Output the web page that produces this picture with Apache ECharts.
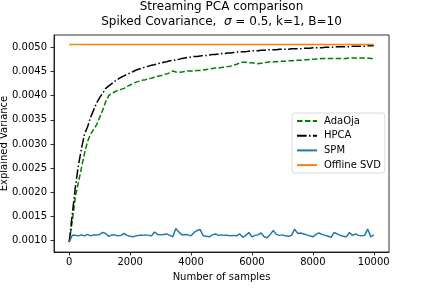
<!DOCTYPE html>
<html>
<head>
<meta charset="utf-8">
<script src="https://cdn.jsdelivr.net/npm/echarts@6/dist/echarts.min.js"></script>
<style>html,body{margin:0;padding:0;background:#fff}#c{width:432px;height:288px}</style>
</head>
<body>
<div id="c"></div>
<script>
// sample counts (every 100 samples)
const samples = [];
for (let i = 0; i <= 100; i++) samples.push(i * 100);

// values in units of 1e-3
const adaOja = [0.97,1.40,1.90,2.20,2.50,2.80,3.05,3.20,3.30,3.40,
  3.55,3.70,3.88,4.00,4.05,4.08,4.11,4.13,4.15,4.19,
  4.22,4.25,4.28,4.30,4.32,4.33,4.35,4.36,4.38,4.40,
  4.41,4.43,4.45,4.47,4.51,4.49,4.48,4.49,4.50,4.51,
  4.51,4.51,4.52,4.52,4.53,4.54,4.55,4.56,4.57,4.57,
  4.58,4.59,4.60,4.61,4.63,4.65,4.68,4.69,4.69,4.68,
  4.68,4.67,4.66,4.67,4.68,4.69,4.70,4.70,4.70,4.71,
  4.71,4.71,4.72,4.72,4.72,4.73,4.73,4.74,4.74,4.75,
  4.75,4.76,4.76,4.77,4.77,4.77,4.77,4.77,4.77,4.77,
  4.77,4.77,4.78,4.78,4.78,4.78,4.78,4.78,4.78,4.77,4.77];
const hpca = [0.97,1.55,2.10,2.55,2.90,3.20,3.35,3.55,3.70,3.85,
  3.96,4.05,4.15,4.20,4.25,4.30,4.34,4.38,4.41,4.44,
  4.47,4.50,4.53,4.55,4.57,4.59,4.61,4.63,4.64,4.66,
  4.67,4.69,4.70,4.72,4.73,4.74,4.75,4.77,4.78,4.79,
  4.80,4.81,4.81,4.82,4.83,4.83,4.84,4.85,4.85,4.86,
  4.87,4.87,4.88,4.88,4.89,4.90,4.90,4.91,4.91,4.92,
  4.93,4.93,4.93,4.94,4.94,4.95,4.95,4.95,4.95,4.96,
  4.96,4.96,4.96,4.97,4.97,4.97,4.97,4.98,4.98,4.98,
  4.99,4.99,4.99,4.99,5.00,5.00,5.00,5.00,5.01,5.01,
  5.01,5.01,5.01,5.02,5.02,5.02,5.02,5.02,5.03,5.03,5.03];
const spm = [0.98,1.11,1.11,1.10,1.12,1.10,1.13,1.10,1.12,1.12,
  1.13,1.17,1.15,1.09,1.12,1.12,1.10,1.11,1.15,1.11,
  1.09,1.08,1.10,1.11,1.11,1.12,1.11,1.10,1.18,1.13,
  1.12,1.13,1.14,1.11,1.08,1.25,1.18,1.12,1.13,1.12,
  1.10,1.17,1.21,1.23,1.10,1.09,1.08,1.12,1.14,1.11,
  1.12,1.11,1.11,1.10,1.11,1.10,1.14,1.07,1.11,1.17,
  1.08,1.11,1.12,1.16,1.08,1.06,1.13,1.21,1.13,1.11,
  1.12,1.10,1.09,1.11,1.24,1.15,1.16,1.14,1.12,1.10,
  1.08,1.13,1.16,1.13,1.11,1.09,1.07,1.17,1.14,1.11,
  1.09,1.08,1.17,1.11,1.14,1.11,1.10,1.11,1.24,1.08,1.12];
const offlineSamples = [0, 10000];
const offlineSVD = [5.06, 5.06];

const xTicks = [0, 2000, 4000, 6000, 8000, 10000];
const yTicks = [0.0010,0.0015,0.0020,0.0025,0.0030,0.0035,0.0040,0.0045,0.0050];

const pair = (xs, vs) => vs.map((v, i) => [xs[i], v * 1e-3]);
const F = 'DejaVu Sans';

const chart = echarts.init(document.getElementById('c'), null, {renderer: 'canvas'});
chart.setOption({
  animation: false,
  backgroundColor: '#fff',
  textStyle: {fontFamily: F},
  grid: {left: 54, right: 43, top: 35, bottom: 36, show: true, borderColor: '#000', borderWidth: 0.8,
         containLabel: false, outerBoundsMode: 'none'},
  graphic: [
    {type: 'text', x: 221.5, y: 7, style: {text: 'Streaming PCA comparison', font: '12px "DejaVu Sans"', fill: '#000', align: 'center', verticalAlign: 'middle'}},
    {type: 'text', x: 221.5, y: 22, style: {
      text: '{a|Spiked Covariance,  }{b|σ}{a| = 0.5, k=1, B=10}',
      align: 'center', verticalAlign: 'middle',
      rich: {a: {fontFamily: F, fontSize: 12, fill: '#000'}, b: {fontFamily: F, fontSize: 12, fontStyle: 'italic', fill: '#000'}}
    }}
  ],
  legend: {
    orient: 'vertical', left: 292, top: 113,
    itemWidth: 20, itemHeight: 10, itemGap: 4.7,
    padding: [3, 4, 3, 4],
    borderColor: '#d0d0d0', borderWidth: 0.8, borderRadius: 3,
    backgroundColor: 'rgba(255,255,255,0.8)',
    itemStyle: {opacity: 0, borderWidth: 0},
    textStyle: {fontFamily: F, fontSize: 10, color: '#000', padding: [0, 0, 0, 2]},
    data: ['AdaOja', 'HPCA', 'SPM', 'Offline SVD']
  },
  xAxis: {
    type: 'value', min: -500, max: 10500,
    name: 'Number of samples', nameLocation: 'middle', nameGap: 20, nameMoveOverlap: false,
    nameTextStyle: {fontFamily: F, fontSize: 10, color: '#000'},
    axisLine: {show: true, onZero: false, lineStyle: {color: '#000', width: 0.8}},
    axisTick: {show: true, inside: false, length: 3.5, lineStyle: {color: '#000', width: 0.8}, customValues: xTicks},
    axisLabel: {fontFamily: F, fontSize: 10, color: '#000', margin: 5, customValues: xTicks, formatter: v => String(v)},
    splitLine: {show: false}
  },
  yAxis: {
    type: 'value', min: 0.000766, max: 0.005254,
    name: 'Explained Variance', nameLocation: 'middle', nameGap: 45, nameMoveOverlap: false,
    nameTextStyle: {fontFamily: F, fontSize: 10, color: '#000'},
    axisLine: {show: true, onZero: false, lineStyle: {color: '#000', width: 0.8}},
    axisTick: {show: true, inside: false, length: 3.5, lineStyle: {color: '#000', width: 0.8}, customValues: yTicks},
    axisLabel: {fontFamily: F, fontSize: 10, color: '#000', margin: 7, customValues: yTicks, formatter: v => v.toFixed(4)},
    splitLine: {show: false}
  },
  series: [
    {name: 'AdaOja', type: 'line', data: pair(samples, adaOja), showSymbol: false, symbol: 'none',
     lineStyle: {color: '#008000', width: 1.5, type: [5.5, 2.4]}, itemStyle: {color: '#008000'}, z: 3},
    {name: 'HPCA', type: 'line', data: pair(samples, hpca), showSymbol: false, symbol: 'none',
     lineStyle: {color: '#000', width: 1.5, type: [9.6, 2.4, 1.5, 2.4]}, itemStyle: {color: '#000'}, z: 4},
    {name: 'SPM', type: 'line', data: pair(samples, spm), showSymbol: false, symbol: 'none',
     lineStyle: {color: '#1f77b4', width: 1.5}, itemStyle: {color: '#1f77b4'}, z: 5},
    {name: 'Offline SVD', type: 'line', data: pair(offlineSamples, offlineSVD), showSymbol: false, symbol: 'none',
     lineStyle: {color: '#ff7f0e', width: 1.5}, itemStyle: {color: '#ff7f0e'}, z: 6}
  ]
});
</script>
</body>
</html>
